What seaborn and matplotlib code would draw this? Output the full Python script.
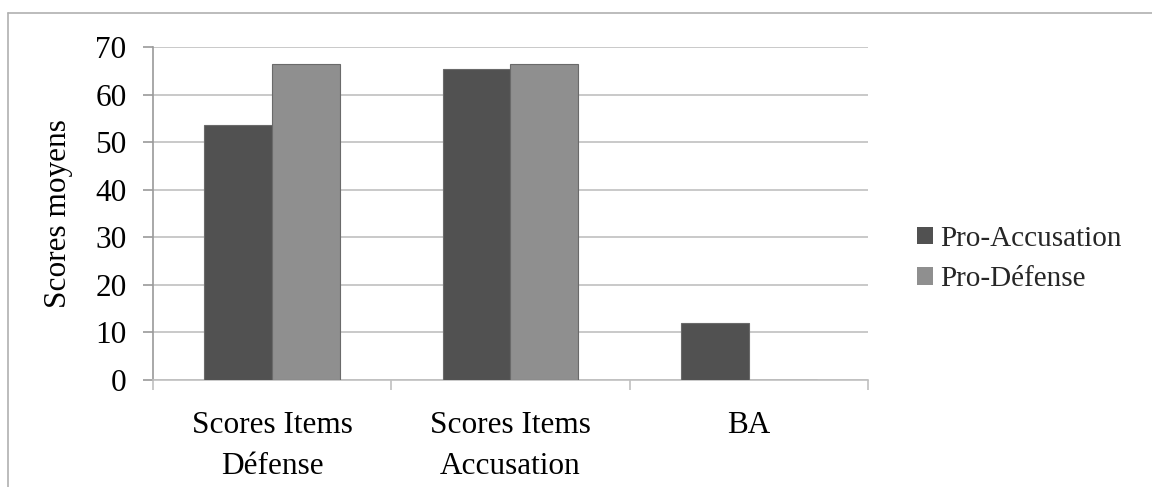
import matplotlib
matplotlib.use("Agg")
import matplotlib.pyplot as plt
import seaborn as sns
import pandas as pd
from matplotlib.lines import Line2D
from matplotlib.patches import Patch

categories = ["Scores Items\nDéfense", "Scores Items\nAccusation", "BA"]
series_names = ["Pro-Accusation", "Pro-Défense"]
pro_accusation = [53.6, 65.4, 11.9]
pro_defense = [66.4, 66.4, 0.0]
y_ticks = [0, 10, 20, 30, 40, 50, 60, 70]

colors = ["#515151", "#8f8f8f"]

df = pd.DataFrame({
    "cat": categories * 2,
    "grp": [series_names[0]] * 3 + [series_names[1]] * 3,
    "val": pro_accusation + pro_defense,
})

sns.set_theme(style="white")
plt.rcParams["font.family"] = ["Liberation Serif", "DejaVu Serif"]

fig = plt.figure(figsize=(11.52, 4.87), dpi=100)
ax = fig.add_axes([153/1152, 1 - 380/487, (868-153)/1152, (380-47)/487])

sns.barplot(data=df, x="cat", y="val", hue="grp", palette=colors, width=0.57,
            ax=ax, legend=False, saturation=1, edgecolor="#6a6a6a", linewidth=0.8,
            zorder=3)

ax.set_xlim(-0.5, 2.5)
ax.set_ylim(0, 70)
ax.set_yticks(y_ticks)
ax.yaxis.grid(True, color="#c0c0c0", linewidth=1.2, zorder=0)
ax.set_axisbelow(True)
for s in ["top", "right"]:
    ax.spines[s].set_visible(False)
ax.spines["left"].set_color("#9a9a9a")
ax.spines["bottom"].set_color("#c0c0c0")
ax.spines["left"].set_linewidth(1.2)
ax.spines["bottom"].set_linewidth(1.2)

ax.set_xticks([0, 1, 2])
ax.set_xticklabels(categories, linespacing=1.55)
ax.set_xticks([-0.5, 0.5, 1.5, 2.5], minor=True)
ax.tick_params(axis="x", which="major", length=0, pad=22, labelsize=22.5, colors="black")
ax.tick_params(axis="x", which="minor", length=7, width=1.2, color="#c0c0c0", bottom=True)
ax.tick_params(axis="y", length=7, width=1.2, color="#9a9a9a", pad=12, labelsize=22.5,
               left=True, colors="black")
ax.tick_params(axis="y", colors="#9a9a9a", labelcolor="black")
ax.set_xlabel("")
ax.set_ylabel("Scores moyens", fontsize=22.5, labelpad=16, color="black")

handles = [Patch(facecolor=c, edgecolor="none") for c in colors]
fig.legend(handles, series_names, loc="center left",
           bbox_to_anchor=(891/1152, 1 - 259/487), frameon=False, fontsize=21,
           handlelength=0.55, handleheight=0.55, handletextpad=0.25, labelspacing=0.5)

fig.add_artist(Line2D([8/1152, 8/1152], [0, 1 - 13/487], transform=fig.transFigure,
                      color="#b0b0b0", linewidth=1.2))
fig.add_artist(Line2D([8/1152, 1], [1 - 13/487, 1 - 13/487], transform=fig.transFigure,
                      color="#b0b0b0", linewidth=1.2))

fig.savefig("out.png", dpi=100)
